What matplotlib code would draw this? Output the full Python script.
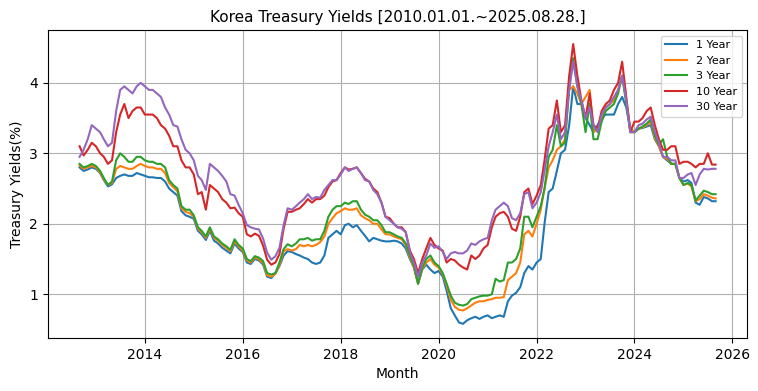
import matplotlib
matplotlib.use("Agg")
import matplotlib.pyplot as plt
import matplotlib.dates as mdates
import pandas as pd

# Monthly dates (month start) from Sep 2012 to Aug 2025, plus the final observation date
dates = pd.date_range("2012-09-01", "2025-08-01", freq="MS").append(pd.DatetimeIndex(["2025-08-28"]))

labels = ["1 Year", "2 Year", "3 Year", "10 Year", "30 Year"]
yticks = [1, 2, 3, 4]

y1 = [2.80, 2.75, 2.77, 2.80,
      2.78, 2.72, 2.62, 2.53, 2.56, 2.65, 2.68, 2.70, 2.68, 2.68, 2.72, 2.70,
      2.68, 2.66, 2.66, 2.65, 2.65, 2.60, 2.50, 2.45, 2.40, 2.18, 2.12, 2.10,
      2.07, 1.90, 1.85, 1.77, 1.90, 1.76, 1.72, 1.66, 1.62, 1.58, 1.72, 1.65,
      1.60, 1.45, 1.43, 1.50, 1.48, 1.42, 1.25, 1.23, 1.30, 1.40, 1.55, 1.61,
      1.60, 1.57, 1.55, 1.52, 1.50, 1.45, 1.43, 1.45, 1.55, 1.80, 1.85, 1.90,
      1.85, 1.98, 2.00, 1.95, 1.98, 1.90, 1.83, 1.75, 1.80, 1.78, 1.76, 1.75,
      1.75, 1.76, 1.75, 1.72, 1.65, 1.50, 1.38, 1.15, 1.35, 1.42, 1.35, 1.30,
      1.33, 1.25, 1.05, 0.80, 0.70, 0.60, 0.58, 0.63, 0.66, 0.68, 0.65, 0.68,
      0.70, 0.66, 0.68, 0.70, 0.68, 0.90, 0.98, 1.02, 1.10, 1.30, 1.40, 1.35,
      1.45, 1.50, 2.00, 2.45, 2.50, 2.75, 3.00, 3.05, 3.40, 3.95, 3.70, 3.70,
      3.50, 3.40, 3.30, 3.40, 3.50, 3.55, 3.55, 3.55, 3.70, 3.80, 3.65, 3.35,
      3.30, 3.35, 3.36, 3.38, 3.40, 3.20, 3.10, 2.95, 2.90, 2.85, 2.85, 2.65,
      2.60, 2.62, 2.58, 2.30, 2.27, 2.38, 2.36, 2.32, 2.32]

y2 = [2.83, 2.78, 2.80, 2.82,
      2.80, 2.73, 2.63, 2.55, 2.58, 2.78, 2.82, 2.80, 2.78, 2.78, 2.82, 2.85,
      2.82, 2.80, 2.80, 2.78, 2.78, 2.72, 2.58, 2.52, 2.46, 2.22, 2.17, 2.15,
      2.10, 1.93, 1.88, 1.80, 1.93, 1.80, 1.76, 1.70, 1.66, 1.61, 1.75, 1.68,
      1.62, 1.48, 1.45, 1.52, 1.50, 1.44, 1.27, 1.25, 1.29, 1.42, 1.61, 1.64,
      1.62, 1.64, 1.70, 1.68, 1.70, 1.68, 1.70, 1.74, 1.82, 2.00, 2.08, 2.15,
      2.18, 2.22, 2.20, 2.20, 2.22, 2.12, 2.08, 2.05, 2.00, 2.00, 1.92, 1.85,
      1.85, 1.82, 1.80, 1.78, 1.70, 1.52, 1.38, 1.15, 1.36, 1.45, 1.50, 1.42,
      1.38, 1.28, 1.12, 0.92, 0.82, 0.78, 0.77, 0.80, 0.84, 0.88, 0.90, 0.90,
      0.92, 0.93, 0.95, 0.95, 0.96, 1.20, 1.25, 1.30, 1.45, 1.85, 1.90, 1.82,
      2.00, 2.20, 2.50, 2.80, 2.90, 3.05, 3.10, 3.20, 3.90, 3.95, 3.85, 3.70,
      3.80, 3.90, 3.30, 3.35, 3.50, 3.65, 3.70, 3.75, 3.90, 4.10, 3.75, 3.35,
      3.30, 3.35, 3.37, 3.40, 3.45, 3.22, 3.10, 2.95, 2.92, 2.85, 2.85, 2.65,
      2.55, 2.57, 2.53, 2.32, 2.35, 2.42, 2.40, 2.37, 2.36]

y3 = [2.85, 2.80, 2.82, 2.85,
      2.82, 2.75, 2.65, 2.55, 2.60, 2.90, 3.00, 2.95, 2.88, 2.88, 2.95, 2.95,
      2.90, 2.88, 2.88, 2.85, 2.85, 2.80, 2.62, 2.55, 2.50, 2.25, 2.20, 2.20,
      2.12, 1.95, 1.90, 1.82, 1.95, 1.82, 1.78, 1.72, 1.68, 1.63, 1.78, 1.70,
      1.65, 1.50, 1.47, 1.54, 1.52, 1.47, 1.30, 1.28, 1.30, 1.45, 1.64, 1.71,
      1.68, 1.72, 1.78, 1.78, 1.80, 1.76, 1.78, 1.78, 1.90, 2.10, 2.20, 2.25,
      2.25, 2.30, 2.28, 2.32, 2.32, 2.20, 2.13, 2.10, 2.05, 2.05, 1.98, 1.88,
      1.88, 1.85, 1.82, 1.80, 1.72, 1.55, 1.40, 1.15, 1.38, 1.50, 1.55, 1.45,
      1.40, 1.30, 1.15, 0.98, 0.88, 0.85, 0.84, 0.86, 0.93, 0.95, 0.97, 0.98,
      0.98, 1.00, 1.22, 1.18, 1.20, 1.45, 1.45, 1.50, 1.65, 2.10, 2.10, 1.95,
      2.10, 2.25, 2.50, 2.95, 3.05, 3.40, 3.10, 3.15, 4.00, 4.35, 3.95, 3.70,
      3.30, 3.70, 3.20, 3.20, 3.45, 3.60, 3.65, 3.70, 3.85, 4.10, 3.70, 3.30,
      3.30, 3.35, 3.38, 3.42, 3.48, 3.25, 3.12, 3.20, 2.95, 2.85, 2.85, 2.65,
      2.55, 2.58, 2.55, 2.33, 2.40, 2.47, 2.45, 2.42, 2.42]

y10 = [3.10, 2.97, 3.05, 3.15,
       3.10, 3.00, 2.95, 2.85, 2.90, 3.30, 3.55, 3.70, 3.50, 3.60, 3.65, 3.65,
       3.55, 3.55, 3.55, 3.50, 3.40, 3.35, 3.25, 3.10, 3.10, 2.90, 2.80, 2.80,
       2.70, 2.42, 2.45, 2.20, 2.55, 2.50, 2.45, 2.35, 2.30, 2.22, 2.23, 2.15,
       2.10, 1.85, 1.82, 1.86, 1.83, 1.69, 1.49, 1.42, 1.45, 1.57, 1.93, 2.17,
       2.17, 2.20, 2.22, 2.28, 2.35, 2.30, 2.35, 2.35, 2.40, 2.52, 2.60, 2.62,
       2.72, 2.80, 2.77, 2.78, 2.80, 2.72, 2.64, 2.60, 2.50, 2.45, 2.30, 2.10,
       2.08, 2.00, 1.95, 1.95, 1.88, 1.62, 1.50, 1.30, 1.50, 1.65, 1.80, 1.70,
       1.65, 1.62, 1.45, 1.50, 1.48, 1.42, 1.38, 1.35, 1.55, 1.50, 1.55, 1.65,
       1.70, 1.95, 2.10, 2.15, 2.17, 2.10, 1.93, 1.90, 2.10, 2.45, 2.50, 2.28,
       2.40, 2.55, 2.90, 3.35, 3.40, 3.75, 3.30, 3.40, 4.10, 4.55, 4.10, 3.75,
       3.50, 3.85, 3.40, 3.35, 3.60, 3.70, 3.75, 3.90, 4.00, 4.30, 3.80, 3.30,
       3.45, 3.45, 3.50, 3.60, 3.65, 3.40, 3.20, 3.05, 3.05, 3.10, 3.10, 2.85,
       2.88, 2.88, 2.85, 2.80, 2.85, 2.85, 3.00, 2.84, 2.84]

y30 = [2.95, 3.05, 3.20, 3.40,
       3.35, 3.30, 3.20, 3.10, 3.15, 3.60, 3.90, 3.95, 3.90, 3.85, 3.95, 4.00,
       3.95, 3.90, 3.90, 3.85, 3.80, 3.65, 3.55, 3.40, 3.38, 3.20, 3.05, 3.00,
       2.90, 2.68, 2.62, 2.48, 2.85, 2.80, 2.75, 2.68, 2.60, 2.42, 2.40, 2.27,
       2.15, 1.98, 1.95, 1.93, 1.92, 1.79, 1.59, 1.49, 1.54, 1.66, 1.98, 2.22,
       2.20, 2.25, 2.30, 2.35, 2.42, 2.35, 2.38, 2.37, 2.48, 2.55, 2.62, 2.62,
       2.70, 2.80, 2.75, 2.78, 2.80, 2.72, 2.62, 2.60, 2.48, 2.42, 2.30, 2.10,
       2.05, 2.00, 1.95, 1.93, 1.88, 1.60, 1.45, 1.25, 1.45, 1.55, 1.72, 1.66,
       1.68, 1.60, 1.50, 1.58, 1.60, 1.58, 1.58, 1.62, 1.72, 1.70, 1.75, 1.78,
       1.80, 2.05, 2.20, 2.25, 2.30, 2.25, 2.08, 2.05, 2.15, 2.42, 2.45, 2.22,
       2.30, 2.45, 2.75, 3.10, 3.30, 3.55, 3.20, 3.30, 3.90, 4.30, 3.95, 3.75,
       3.50, 3.65, 3.40, 3.30, 3.55, 3.65, 3.70, 3.80, 3.90, 4.10, 3.75, 3.30,
       3.30, 3.40, 3.42, 3.48, 3.52, 3.30, 3.15, 2.95, 2.95, 2.90, 2.90, 2.65,
       2.65, 2.70, 2.72, 2.55, 2.70, 2.78, 2.77, 2.78, 2.78]

series = [y1, y2, y3, y10, y30]
colors = ["#1f77b4", "#ff7f0e", "#2ca02c", "#d62728", "#9467bd"]

fig = plt.figure(figsize=(7.58, 3.91), dpi=100)
ax = fig.add_axes([0.063, 0.136, 0.923, 0.787])

for vals, lab, c in zip(series, labels, colors):
    ax.plot(dates, vals, color=c, lw=1.5, label=lab)

ax.xaxis.set_major_locator(mdates.YearLocator(2))
ax.xaxis.set_major_formatter(mdates.DateFormatter("%Y"))
ax.set_yticks(yticks)
ax.set_yticklabels([str(t) for t in yticks])
ax.tick_params(labelsize=10)
ax.grid(True)
ax.set_title("Korea Treasury Yields [2010.01.01.~2025.08.28.]", fontsize=11)
ax.set_xlabel("Month", fontsize=10)
ax.set_ylabel("Treasury Yields(%)", fontsize=10)
ax.legend(loc="upper right", fontsize=8)

fig.savefig("out.png", dpi=100)
